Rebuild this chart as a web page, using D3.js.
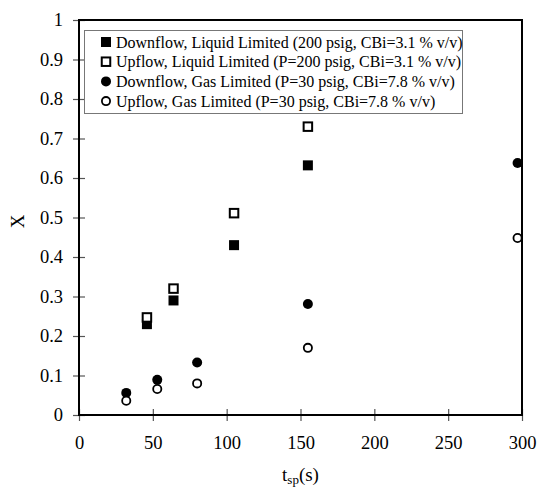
<!DOCTYPE html>
<html>
<head>
<meta charset="utf-8">
<script src="https://cdn.jsdelivr.net/npm/d3@7/dist/d3.min.js"></script>
<style>
  html, body { margin: 0; padding: 0; background: #fff; }
  svg text { font-family: "Liberation Serif", "Times New Roman", serif; fill: #000; }
</style>
</head>
<body>
<svg id="chart" width="540" height="489"></svg>
<script>
// Spray time t_sp (s) and conversion X for each run series
const downLiquidT = [46, 64, 105, 155];
const downLiquidX = [0.23, 0.29, 0.43, 0.632];
const upLiquidT = [46, 64, 105, 155];
const upLiquidX = [0.247, 0.32, 0.511, 0.73];
const downGasT = [32, 53, 80, 155, 297];
const downGasX = [0.056, 0.089, 0.133, 0.281, 0.638];
const upGasT = [32, 53, 80, 155, 297];
const upGasX = [0.036, 0.066, 0.08, 0.17, 0.448];

const seriesNames = [
  "Downflow, Liquid Limited (200 psig, CBi=3.1 % v/v)",
  "Upflow, Liquid Limited (P=200 psig, CBi=3.1 % v/v)",
  "Downflow, Gas Limited (P=30 psig, CBi=7.8 % v/v)",
  "Upflow, Gas Limited (P=30 psig, CBi=7.8 % v/v)"
];
const seriesShapes = ["square", "square", "circle", "circle"];
const seriesFilled = [true, false, true, false];

const xTicks = [0, 50, 100, 150, 200, 250, 300];
const yTicks = [0, 0.1, 0.2, 0.3, 0.4, 0.5, 0.6, 0.7, 0.8, 0.9, 1];
const yTickLabels = ["0", "0.1", "0.2", "0.3", "0.4", "0.5", "0.6", "0.7", "0.8", "0.9", "1"];

const series = [
  [downLiquidT, downLiquidX],
  [upLiquidT, upLiquidX],
  [downGasT, downGasX],
  [upGasT, upGasX]
].map(([t, x], i) => ({
  name: seriesNames[i],
  shape: seriesShapes[i],
  filled: seriesFilled[i],
  points: t.map((tv, j) => ({ t: tv, x: x[j] }))
}));

const svg = d3.select("#chart");
const plot = { left: 79, right: 522, top: 20, bottom: 415 };

const xScale = d3.scaleLinear().domain([0, 300]).range([plot.left, plot.right]);
const yScale = d3.scaleLinear().domain([0, 1]).range([plot.bottom, plot.top]);

// Tick marks cross the axis lines on both sides
const xAxis = d3.axisBottom(xScale).tickValues(xTicks).tickSizeInner(6).tickSizeOuter(0);
const gx = svg.append("g").attr("transform", `translate(0,${plot.bottom - 6})`).call(xAxis);
gx.select(".domain").remove();
gx.selectAll(".tick line").attr("y2", 12).attr("stroke", "#555").attr("stroke-width", 1.2);
gx.selectAll(".tick text").attr("font-size", 18.5).attr("font-family", "Liberation Serif, serif").attr("dy", "0.3em").attr("y", 34);

const yAxis = d3.axisLeft(yScale).tickValues(yTicks).tickFormat((d, i) => yTickLabels[i]).tickSizeInner(6).tickSizeOuter(0);
const gy = svg.append("g").attr("transform", `translate(${plot.left + 6},0)`).call(yAxis);
gy.select(".domain").remove();
gy.selectAll(".tick line").attr("x2", -12).attr("stroke", "#555").attr("stroke-width", 1.2);
gy.selectAll(".tick text").attr("font-size", 18.5).attr("font-family", "Liberation Serif, serif").attr("x", -22);

// Plot frame
svg.append("rect")
  .attr("x", plot.left).attr("y", plot.top)
  .attr("width", plot.right - plot.left).attr("height", plot.bottom - plot.top)
  .attr("fill", "none").attr("stroke", "#000").attr("stroke-width", 2);

// Markers
const sqSize = 10, circR = 5;
function drawMarker(sel, shape, filled) {
  if (shape === "square") {
    sel.append("rect")
      .attr("x", -sqSize / 2 + (filled ? 0 : 0.75)).attr("y", -sqSize / 2 + (filled ? 0 : 0.75))
      .attr("width", filled ? sqSize : sqSize - 1.5).attr("height", filled ? sqSize : sqSize - 1.5)
      .attr("fill", filled ? "#000" : "#fff").attr("stroke", "#000")
      .attr("stroke-width", filled ? 0 : 2);
  } else {
    sel.append("circle")
      .attr("r", filled ? circR : circR - 0.9)
      .attr("fill", filled ? "#000" : "#fff").attr("stroke", "#000")
      .attr("stroke-width", filled ? 0 : 1.8);
  }
}

series.forEach(s => {
  svg.append("g").selectAll("g.pt").data(s.points).join("g")
    .attr("class", "pt")
    .attr("transform", d => `translate(${xScale(d.t)},${yScale(d.x)})`)
    .each(function () { drawMarker(d3.select(this), s.shape, s.filled); });
});

// Legend
const legend = svg.append("g");
legend.append("rect")
  .attr("x", 84.5).attr("y", 30.5).attr("width", 378).attr("height", 83)
  .attr("fill", "#fff").attr("stroke", "#777").attr("stroke-width", 1);
series.forEach((s, i) => {
  const cy = 42 + i * 19.7;
  const g = legend.append("g").attr("transform", `translate(106,${cy})`);
  drawMarker(g, s.shape, s.filled);
  legend.append("text")
    .attr("x", 116).attr("y", cy).attr("dy", "0.35em")
    .attr("font-size", 16).text(s.name);
});

// Axis titles
const xt = svg.append("text").attr("x", xScale(150)).attr("y", 481)
  .attr("text-anchor", "middle").attr("font-size", 19);
xt.append("tspan").text("t");
xt.append("tspan").attr("font-size", 13).attr("dy", 3).text("sp");
xt.append("tspan").attr("dy", -3).text("(s)");

svg.append("text")
  .attr("transform", `translate(24,${(plot.top + plot.bottom) / 2 + 4}) rotate(-90)`)
  .attr("text-anchor", "middle").attr("font-size", 19).text("X");
</script>
</body>
</html>
